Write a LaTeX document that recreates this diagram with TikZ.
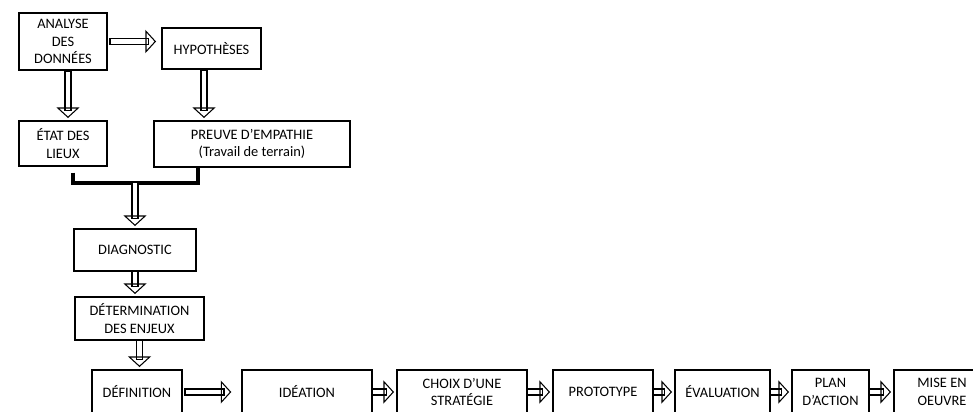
\documentclass[tikz,border=0pt]{standalone}
\usepackage{fontspec}
\setmainfont{Carlito}
\usetikzlibrary{arrows.meta}

\begin{document}
\begin{tikzpicture}[x=0.02cm,y=-0.02cm,
    etape/.style={draw,line width=0.8pt,inner sep=0pt,align=center,
        font=\fontsize{8.2}{10}\selectfont},
    fleche/.style={double,double distance=2.8pt,line width=0.6pt,line cap=rect,
        shorten <=1.3pt,shorten >=1.3pt,
        -{Triangle[open,length=6pt,width=13pt,line width=0.6pt]}}]
\path[use as bounding box,clip] (0,0) rectangle (973,412);
% haut
\node[etape,minimum width=1.76cm,minimum height=1.14cm] (analyse) at (63,41.5) {ANALYSE\\DES\\DONNÉES};
\node[etape,minimum width=1.98cm,minimum height=0.82cm] (hypo) at (211.5,48.5) {HYPOTHÈSES};
\node[etape,minimum width=1.76cm,minimum height=0.90cm] (etat) at (63,143.5) {ÉTAT DES\\LIEUX};
\node[etape,minimum width=3.92cm,minimum height=0.92cm] (preuve) at (252,144) {PREUVE D’EMPATHIE\\(Travail de terrain)};
% milieu
\node[etape,minimum width=2.44cm,minimum height=0.84cm] (diag) at (135,250) {DIAGNOSTIC};
\node[etape,minimum width=2.58cm,minimum height=0.86cm] (enjeux) at (139.5,318.5) {DÉTERMINATION\\DES ENJEUX};
% bas
\node[etape,minimum width=1.80cm,minimum height=0.88cm] (def) at (137,392) {DÉFINITION};
\node[etape,minimum width=2.60cm,minimum height=0.88cm] (ideation) at (307,392) {IDÉATION};
\node[etape,minimum width=2.60cm,minimum height=0.88cm] (choix) at (462,392) {CHOIX D’UNE\\STRATÉGIE};
\node[etape,minimum width=2.00cm,minimum height=0.88cm] (proto) at (603,392) {PROTOTYPE};
\node[etape,minimum width=1.90cm,minimum height=0.88cm] (eval) at (722.5,392) {ÉVALUATION};
\node[etape,minimum width=1.54cm,minimum height=0.88cm] (plan) at (830.5,392) {PLAN\\D’ACTION};
\node[etape,minimum width=1.92cm,minimum height=0.88cm] (mise) at (942,392) {MISE EN\\OEUVRE};

\draw[fleche,shorten <=3pt,shorten >=3pt] (analyse) -- (hypo.west |- analyse);
\draw[fleche,shorten <=2pt] ([xshift=0.1cm]analyse.south) -- ([xshift=0.1cm]etat.north);
\draw[fleche,shorten <=2pt] ([xshift=-0.15cm]hypo.south) -- ([xshift=-0.15cm]hypo.south |- preuve.north);

% accolade
\coordinate (jonction) at (135,183);
\draw[line width=2.2pt] ([xshift=0.2cm,yshift=-0.12cm]etat.south) |- (jonction) -| ([xshift=-1.08cm]preuve.south);
\draw[fleche] (jonction) -- (jonction |- diag.north);
\draw[fleche] (diag.south) -- (diag.south |- enjeux.north);
\draw[fleche] (enjeux.south) -- (enjeux.south |- def.north);

\draw[fleche,shorten <=3pt,shorten >=0.2cm] (def) -- (ideation);
\draw[fleche] (ideation) -- (choix);
\draw[fleche] (choix) -- (proto);
\draw[fleche] (proto) -- (eval);
\draw[fleche] (eval) -- (plan);
\draw[fleche] (plan) -- (mise);
\end{tikzpicture}
\end{document}
